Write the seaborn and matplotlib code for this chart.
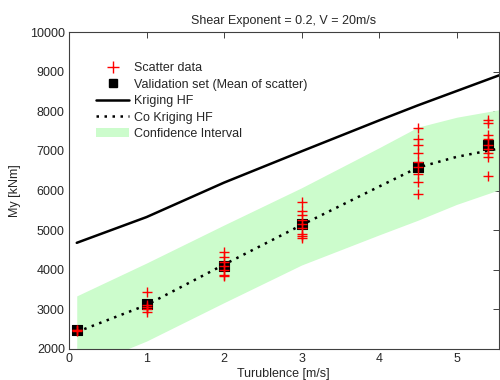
import matplotlib
matplotlib.use("Agg")
import matplotlib.pyplot as plt
import seaborn as sns
import numpy as np
import pandas as pd
from matplotlib.lines import Line2D
from matplotlib.patches import Patch

# ---- data ----
scatter_x = ([0.1] * 3 + [1.0] * 5 + [2.0] * 7 + [3.0] * 9 + [4.5] * 9 + [5.4] * 9)
scatter_y = ([2490, 2470, 2450] +
             [3440, 3120, 3050, 3000, 2940] +
             [4450, 4320, 4200, 4100, 4000, 3880, 3830] +
             [5700, 5480, 5370, 5250, 5160, 5050, 4900, 4840, 4790] +
             [7580, 7300, 7160, 6940, 6730, 6590, 6410, 6210, 5920] +
             [7770, 7700, 7390, 7290, 7160, 7060, 6950, 6850, 6360])

mean_x = [0.1, 1.0, 2.0, 3.0, 4.5, 5.4]
mean_y = [2470, 3130, 4090, 5160, 6590, 7150]

krig_x = [0.1, 1.0, 2.0, 3.0, 4.0, 4.5, 5.55]
krig_y = [4680, 5330, 6200, 6990, 7770, 8150, 8910]

cok_x = [0.1, 1.0, 2.0, 3.0, 4.0, 4.5, 5.0, 5.55]
cok_y = [2430, 3110, 4130, 5130, 6100, 6580, 6850, 7060]

ci_x = [0.1, 1.0, 2.0, 3.0, 4.0, 4.5, 5.0, 5.55]
ci_upper = [3340, 4170, 5130, 6070, 7080, 7600, 7850, 8040]
ci_lower = [1480, 2200, 3170, 4120, 4880, 5250, 5650, 6020]

title = "Shear Exponent = 0.2, V = 20m/s"
xlabel = "Turublence [m/s]"
ylabel = "My [kNm]"
xticks = [0, 1, 2, 3, 4, 5]
yticks = [2000, 3000, 4000, 5000, 6000, 7000, 8000, 9000, 10000]

# ---- plotting ----
sns.set_style("white")
plt.rcParams['font.family'] = ['Liberation Sans', 'DejaVu Sans']
plt.rcParams['font.size'] = 9

fig = plt.figure(figsize=(5.0, 3.8), dpi=100)
ax = fig.add_axes([0.138, 0.0816, 0.859, 0.834])

green = '#ccfccc'
ax.fill_between(ci_x, ci_lower, ci_upper, color=green, linewidth=0, zorder=1)

sns.lineplot(x=krig_x, y=krig_y, ax=ax, color='black', linewidth=1.8,
             estimator=None, sort=False, zorder=2)
sns.lineplot(x=cok_x, y=cok_y, ax=ax, color='black', linewidth=1.8,
             linestyle=(0, (1, 2.2)), estimator=None, sort=False, zorder=2)

sns.scatterplot(x=mean_x, y=mean_y, ax=ax, marker='s', s=55, color='black',
                edgecolor='black', linewidth=0.8, zorder=3)
sns.scatterplot(x=scatter_x, y=scatter_y, ax=ax, marker='+', s=55, color='red',
                linewidth=1.0, zorder=4)

ax.set_xlim(0, 5.54)
ax.set_ylim(2000, 10000)
ax.set_xticks(xticks)
ax.set_yticks(yticks)
ax.set_title(title, fontsize=9, pad=6)
ax.set_xlabel(xlabel, fontsize=9, labelpad=2)
ax.set_ylabel(ylabel, fontsize=9, labelpad=6)

for s in ax.spines.values():
    s.set_color('#404040')
    s.set_linewidth(0.8)
ax.tick_params(direction='in', length=4, width=0.7, color='#404040',
               top=True, right=True, labelsize=9, pad=3)

handles = [
    Line2D([], [], marker='+', color='red', linestyle='none', markersize=8, markeredgewidth=1.0),
    Line2D([], [], marker='s', color='black', linestyle='none', markersize=6),
    Line2D([], [], color='black', linewidth=1.8),
    Line2D([], [], color='black', linewidth=1.8, linestyle=(0, (1, 2.2))),
    Patch(facecolor=green, edgecolor='none'),
]
labels = ["Scatter data", "Validation set (Mean of scatter)", "Kriging HF",
          "Co Kriging HF", "Confidence Interval"]
ax.legend(handles, labels, loc='upper left', bbox_to_anchor=(0.052, 0.92),
          frameon=False, fontsize=9, handlelength=2.65, handletextpad=0.35,
          labelspacing=0.35, borderaxespad=0)

fig.savefig("out.png", dpi=100)
